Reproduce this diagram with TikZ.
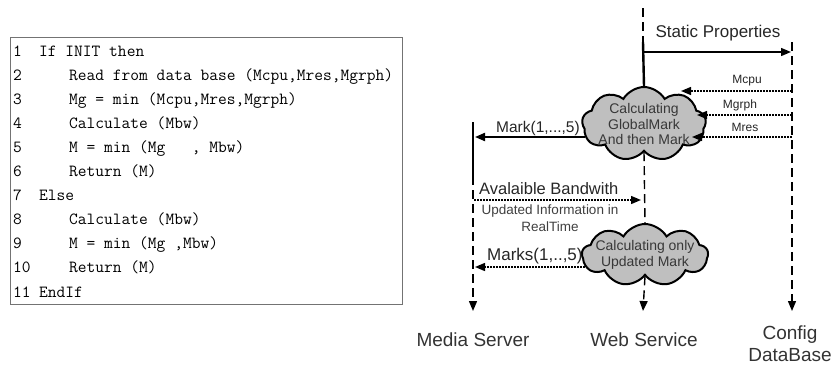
\documentclass[tikz,border=0pt]{standalone}
\usepackage{fontspec}
\setmainfont{Liberation Sans}
\usetikzlibrary{shapes.symbols,arrows.meta}
\begin{document}
\begin{tikzpicture}[x=1pt,y=-1pt,
  codetxt/.style={anchor=base west,inner sep=0pt,font=\fontsize{17}{18}\selectfont\ttfamily},
  codebox/.style={draw=black!55,line width=1pt},
  life/.style={line width=1.4pt,dash pattern=on 9pt off 5pt},
  lifeend/.style={life,-{Triangle[length=10pt,width=8pt]}},
  thickline/.style={line width=2.4pt},
  msg/.style={line width=1.4pt,-{Triangle[length=10pt,width=8pt]}},
  dmsg/.style={line width=1.4pt,dash pattern=on 1.6pt off 1.4pt,-{Triangle[length=10pt,width=8pt]}},
  cloudbox/.style={cloud,cloud puffs=9,cloud puff arc=120,cloud ignores aspect,draw=black,line width=2pt,fill=black!25,inner sep=0pt},
  cloudtxt/.style={text=black!78,align=center,inner sep=0pt,font=\fontsize{14}{15.5}\selectfont},
  actor/.style={font=\fontsize{19}{22}\selectfont,text=black!80,align=center,inner sep=0pt},
  lbl/.style={inner sep=0pt,text=black!85},
]
\useasboundingbox (0,0) rectangle (836,365);

% ---------- code box ----------
\draw[codebox] (10,37) rectangle (402,304);
\foreach \n/\ind/\t [count=\i from 0] in {
  1/0/{If INIT then},
  2/1/{Read from data base (Mcpu,Mres,Mgrph)},
  3/1/{Mg = min (Mcpu,Mres,Mgrph)},
  4/1/{Calculate (Mbw)},
  5/1/{M = min (Mg\ \ \ , Mbw)},
  6/1/{Return (M)},
  7/0/{Else},
  8/1/{Calculate (Mbw)},
  9/1/{M = min (Mg ,Mbw)},
  10/1/{Return (M)},
  11/0/{EndIf}}{
  \node[codetxt] (num\n) at (13,56+24.1*\i) {\n};
  \ifnum\ind=0
    \node[codetxt] (line\n) at (39,56+24.1*\i) {\t};
  \else
    \node[codetxt] (line\n) at (69,56+24.1*\i) {\t};
  \fi
}

% ---------- sequence diagram ----------
\node[actor] (ms) at (473,340) {Media Server};
\node[actor] (ws) at (644,340) {Web Service};
\node[actor] (cfg) at (790,344) {Config\\DataBase};

\node[cloudbox,minimum width=124pt,minimum height=74pt] (c1) at (644,124) {};
\node[cloudtxt] (c1t) at (c1.center) {Calculating\\GlobalMark\\And then Mark};
\node[cloudbox,minimum width=126pt,minimum height=62pt] (c2) at (645,255) {};
\node[cloudtxt] (c2t) at (c2.center) {Calculating only\\Updated Mark};

% lifeline coordinates
\coordinate (wsTop) at (643,8);
\coordinate (wsA) at (643,42);
\coordinate (wsEnd) at (643,311);
\coordinate (cfgTop) at (792,42);
\coordinate (cfgEnd) at (792,311);
\coordinate (msTop) at (473,122);
\coordinate (msA) at (473,176);
\coordinate (msEnd) at (473,311);

% Web Service lifeline
\draw[life] (wsTop) -- (wsA);
\draw[thickline] (wsA) -- (c1.north);
\draw[life] (c1.south) -- (c2.north);
\draw[lifeend] (c2.south) -- (wsEnd);
% Config lifeline
\draw[lifeend] (cfgTop) -- (cfgEnd);
% Media server lifeline
\draw[thickline] (msTop) -- (msA);
\draw[lifeend] (msA) -- (msEnd);

% Static properties
\coordinate (sp1) at (643,52);
\coordinate (sp2) at (791,52);
\draw[msg] (sp1) -- (sp2);
\node[lbl,font=\fontsize{17}{18}\selectfont] (splbl) at (718,33) {Static Properties};

% Mcpu / Mgrph / Mres
\coordinate (cpu1) at (792,91);
\coordinate (cpu2) at (681,91);
\coordinate (grp1) at (792,115);
\coordinate (grp2) at (697,115);
\coordinate (res1) at (792,137);
\coordinate (res2) at (692,137);
\draw[dmsg] (cpu1) -- (cpu2);
\draw[dmsg] (grp1) -- (grp2);
\draw[dmsg] (res1) -- (res2);
\node[lbl,font=\fontsize{12}{13}\selectfont] (cpulbl) at (747,81) {Mcpu};
\node[lbl,font=\fontsize{12}{13}\selectfont] (grplbl) at (740,105) {Mgrph};
\node[lbl,font=\fontsize{12}{13}\selectfont] (reslbl) at (745,127) {Mres};

% Mark(1,...,5)
\coordinate (mk1) at (585,137);
\coordinate (mk2) at (475,137);
\draw[msg,line width=2pt] (mk1) -- (mk2);
\node[lbl,font=\fontsize{15.5}{16}\selectfont,anchor=west] (mklbl) at (496,128) {Mark(1,...,5)};

% Avalaible Bandwith
\coordinate (bw1) at (474,200);
\coordinate (bw2) at (641,200);
\draw[dmsg] (bw1) -- (bw2);
\node[lbl,font=\fontsize{16.5}{17}\selectfont,anchor=west] (bwlbl) at (479,189) {Avalaible Bandwith};
\node[lbl,font=\fontsize{13.5}{16.5}\selectfont,align=center,text=black!75] (uplbl) at (550,218) {Updated Information in\\RealTime};

% Marks(1,..,5)
\coordinate (mks1) at (585,267);
\coordinate (mks2) at (475,267);
\draw[dmsg] (mks1) -- (mks2);
\node[lbl,font=\fontsize{17}{18}\selectfont,anchor=west] (mkslbl) at (487,256) {Marks(1,..,5)};
\end{tikzpicture}
\end{document}
